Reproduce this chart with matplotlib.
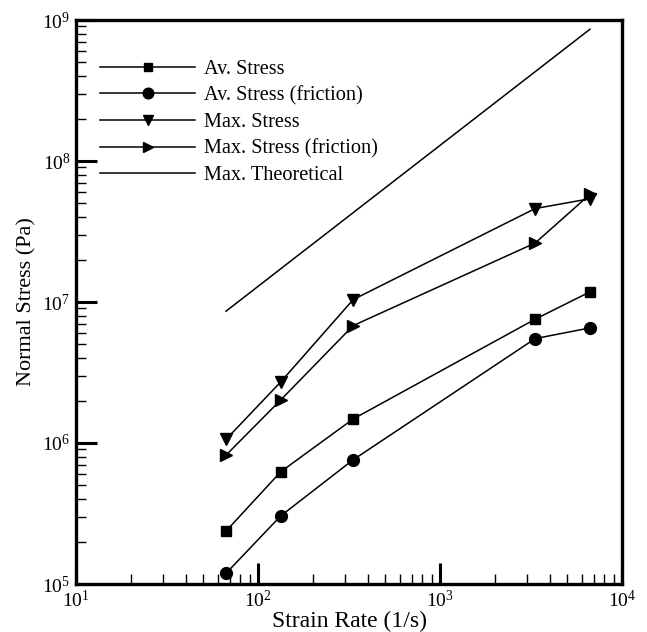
import matplotlib.pyplot as plt
from matplotlib.ticker import LogLocator, NullFormatter

plt.rcParams['font.family'] = ['Liberation Serif', 'DejaVu Serif']
plt.rcParams['mathtext.fontset'] = 'stix'

strain_rate = [66.7, 133.3, 333.3, 3333, 6667]
av_stress = [2.37e5, 6.25e5, 1.48e6, 7.55e6, 1.18e7]
av_stress_fric = [1.19e5, 3.04e5, 7.6e5, 5.5e6, 6.55e6]
max_stress = [1.06e6, 2.71e6, 1.04e7, 4.6e7, 5.4e7]
max_stress_fric = [8.2e5, 2.02e6, 6.8e6, 2.62e7, 5.8e7]
max_theory = [8.6e6, 1.72e7, 4.3e7, 4.3e8, 8.6e8]

fig = plt.figure(figsize=(6.47, 6.32), dpi=100)
ax = fig.add_axes([76/647, 1 - 584/632, 546/647, 564/632])

ax.plot(strain_rate, av_stress, color='black', lw=1.1, marker='s', ms=7, label='Av. Stress')
ax.plot(strain_rate, av_stress_fric, color='black', lw=1.1, marker='o', ms=8.5, label='Av. Stress (friction)')
ax.plot(strain_rate, max_stress, color='black', lw=1.1, marker='v', ms=8, label='Max. Stress')
ax.plot(strain_rate, max_stress_fric, color='black', lw=1.1, marker='>', ms=8, label='Max. Stress (friction)')
ax.plot(strain_rate, max_theory, color='black', lw=1.1, label='Max. Theoretical')

ax.set_xscale('log')
ax.set_yscale('log')
ax.set_xlim(10, 1e4)
ax.set_ylim(1e5, 1e9)

ax.xaxis.set_major_locator(LogLocator(base=10, numticks=10))
ax.yaxis.set_major_locator(LogLocator(base=10, numticks=10))
ax.xaxis.set_minor_locator(LogLocator(base=10, subs=range(2, 10), numticks=20))
ax.yaxis.set_minor_locator(LogLocator(base=10, subs=range(2, 10), numticks=20))
ax.xaxis.set_minor_formatter(NullFormatter())
ax.yaxis.set_minor_formatter(NullFormatter())

ax.tick_params(which='major', direction='in', length=15, width=2.2, labelsize=14,
               top=False, right=False, pad=4)
ax.tick_params(which='minor', direction='in', length=7, width=1, top=False, right=False)
for s in ax.spines.values():
    s.set_linewidth(2.4)

ax.set_xlabel('Strain Rate (1/s)', fontsize=17, labelpad=0)
ax.set_ylabel('Normal Stress (Pa)', fontsize=16, labelpad=4)

ax.legend(loc='upper left', bbox_to_anchor=(0.044, 0.93), frameon=False, fontsize=14.6,
          handlelength=4.7, handletextpad=0.43, labelspacing=0.36, numpoints=1,
          markerscale=0.9, borderaxespad=0, borderpad=0)

fig.savefig('out.png', dpi=100)
